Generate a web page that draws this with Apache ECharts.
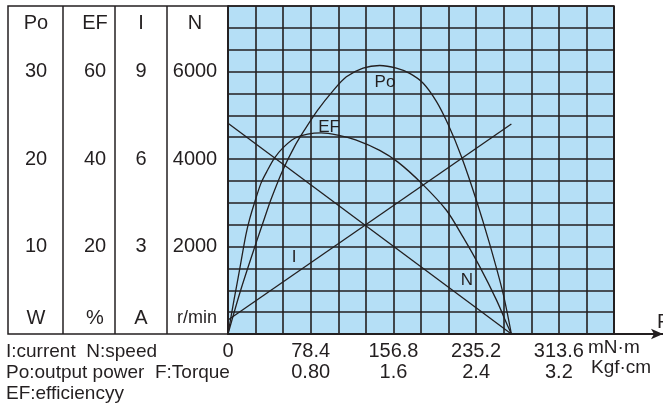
<!DOCTYPE html>
<html><head><meta charset="utf-8">
<script src="https://cdn.jsdelivr.net/npm/echarts@6/dist/echarts.min.js"></script>
<style>html,body{margin:0;padding:0;background:#fff;}#c{width:663px;height:408px;}</style>
</head><body><div id="c"></div>
<script>
// ---- data (torque in mN·m) ----
const efTorque = [0, 5.7, 10.4, 16.8, 20.3, 25.0, 31.3, 37.6, 44.0, 51.8, 62.9, 75.5, 88.2, 104, 121, 143.8, 161.1, 183.3, 207, 222.7, 238.6, 254.4, 265.4, 268.6];
const efValues = [0, 7.8, 13.9, 22.5, 26.1, 29.9, 34.5, 37.5, 40.2, 42.5, 44.7, 45.7, 46.0, 45.5, 44.4, 42.0, 39.3, 34.5, 28.3, 22.2, 15.4, 7.8, 1.7, 0];
const poTorque = [0, 12, 26.3, 34.5, 40.8, 51.8, 62.9, 72.4, 85.0, 99.5, 112.2, 128, 143.8, 159.6, 172.2, 184.8, 197.5, 208.5, 221.2, 235.4, 248, 260.7, 268.6];
const poValues = [0, 5.0, 10.3, 13.2, 15.4, 18.7, 21.4, 23.3, 25.6, 27.8, 29.4, 30.4, 30.7, 30.4, 29.8, 28.7, 26.6, 24.0, 20.3, 15.3, 10.3, 4.65, 0];
const iTorque = [0, 268.6];
const iValues = [0.48, 7.2];
const nTorque = [0, 268.6];
const nValues = [4820, 0];

// ---- tick labels ----
const xLabelsMNm = ['0', '78.4', '156.8', '235.2', '313.6'];
const xLabelsKgf = ['', '0.80', '1.6', '2.4', '3.2'];
const poTicks = ['10', '20', '30'];
const efTicks = ['20', '40', '60'];
const iTicks = ['3', '6', '9'];
const nTicks = ['2000', '4000', '6000'];
const tableHeads = ['Po', 'EF', 'I', 'N'];
const tableUnits = ['W', '%', 'A', 'r/min'];
const notes = ['I:current  N:speed', 'Po:output power  F:Torque', 'EF:efficiencyy'];
const curveNames = ['Po', 'EF', 'I', 'N'];
const torqueUnits = ['mN\u00b7m', 'Kgf\u00b7cm'];
const axisName = 'F';

// ---- layout / style ----
const INK = '#231f20';
const FONT = '"Liberation Sans", Arial, Helvetica, sans-serif';
const GL = 228, GT = 6, GW = 386, GH = 328;
const torqueStep = 78.4 / 3;
const torqueMax = torqueStep * 14;
const colCenters = [36, 95, 141, 195];

function pick(ticks) {
  return function (v) { const t = ticks.find(s => Math.abs(+s - v) < 1e-6); return t || ''; };
}
function xFmt(labels) {
  return function (v) { const k = Math.round(v / torqueStep); return k % 3 === 0 ? (labels[k / 3] || '') : ''; };
}
function yAxisFor(max, interval, ticks, col, split) {
  return {
    type: 'value', gridIndex: 0, position: 'left', min: 0, max: max, interval: interval,
    axisLine: { show: false }, axisTick: { show: false },
    axisLabel: { formatter: pick(ticks), align: 'center', margin: GL - colCenters[col], color: INK, fontSize: 20, fontFamily: FONT },
    splitLine: { show: split, lineStyle: { color: INK, width: 1.6 } }
  };
}
function pair(xs, ys) { return xs.map((x, i) => [x, ys[i]]); }

const chart = echarts.init(document.getElementById('c'), null, { renderer: 'canvas' });

const graphic = [];
graphic.push({ type: 'rect', shape: { x: 8, y: GT, width: GL - 8, height: GH }, style: { fill: 'none', stroke: INK, lineWidth: 1.5 }, z: 10 });
[63, 115, 167].forEach(x => graphic.push({ type: 'line', shape: { x1: x, y1: GT, x2: x, y2: GT + GH }, style: { stroke: INK, lineWidth: 1.5 }, z: 10 }));
tableHeads.forEach((t, i) => graphic.push({ type: 'text', x: colCenters[i], y: 23, style: { text: t, fill: INK, font: '20px ' + FONT, textAlign: 'center', textVerticalAlign: 'middle' }, z: 10 }));
tableUnits.forEach((t, i) => graphic.push({ type: 'text', x: colCenters[i] + (i === 3 ? 2 : 0), y: 318, style: { text: t, fill: INK, font: (i === 3 ? '18px ' : '20px ') + FONT, textAlign: 'center', textVerticalAlign: 'middle' }, z: 10 }));
notes.forEach((t, i) => graphic.push({ type: 'text', x: 6, y: 352 + i * 21, style: { text: t, fill: INK, font: '19px ' + FONT, textAlign: 'left', textVerticalAlign: 'middle' }, z: 10 }));
const curvePos = [[385, 82], [329, 127], [294, 257], [467, 280]];
curveNames.forEach((t, i) => graphic.push({ type: 'text', x: curvePos[i][0], y: curvePos[i][1], style: { text: t, fill: INK, font: '17px ' + FONT, textAlign: 'center', textVerticalAlign: 'middle' }, z: 10 }));
graphic.push({ type: 'text', x: 588, y: 348, style: { text: torqueUnits[0], fill: INK, font: '19px ' + FONT, textAlign: 'left', textVerticalAlign: 'middle' }, z: 10 });
graphic.push({ type: 'text', x: 591, y: 368, style: { text: torqueUnits[1], fill: INK, font: '19px ' + FONT, textAlign: 'left', textVerticalAlign: 'middle' }, z: 10 });
graphic.push({ type: 'text', x: 657, y: 322, style: { text: axisName, fill: INK, font: '20px ' + FONT, textAlign: 'left', textVerticalAlign: 'middle' }, z: 10 });

const lineStyle = { color: INK, width: 1.3 };
chart.setOption({
  animation: false,
  backgroundColor: '#ffffff',
  textStyle: { fontFamily: FONT },
  grid: [
    { left: GL, top: GT, width: GW, height: GH, show: true, backgroundColor: '#b5dff6', borderColor: INK, borderWidth: 1.6 },
    { left: GL, top: GT, width: 663 - GL, height: GH, show: false }
  ],
  xAxis: [
    { type: 'value', gridIndex: 0, min: 0, max: torqueMax, interval: torqueStep,
      axisLine: { show: false }, axisTick: { show: false },
      axisLabel: { formatter: xFmt(xLabelsMNm), margin: 7, color: INK, fontSize: 20, fontFamily: FONT, showMaxLabel: false },
      splitLine: { show: true, lineStyle: { color: INK, width: 1.6 } } },
    { type: 'value', gridIndex: 0, position: 'bottom', offset: 21, min: 0, max: torqueMax, interval: torqueStep,
      axisLine: { show: false }, axisTick: { show: false },
      axisLabel: { formatter: xFmt(xLabelsKgf), margin: 7, color: INK, fontSize: 20, fontFamily: FONT, showMaxLabel: false },
      splitLine: { show: false } },
    { type: 'value', gridIndex: 1, min: 0, max: 1,
      axisLine: { show: true, symbol: ['none', 'arrow'], symbolSize: [8, 12], lineStyle: { color: INK, width: 2 } },
      axisTick: { show: false }, axisLabel: { show: false }, splitLine: { show: false } }
  ],
  yAxis: [
    yAxisFor(37.5, 2.5, poTicks, 0, false),
    yAxisFor(75, 5, efTicks, 1, false),
    yAxisFor(11.25, 0.75, iTicks, 2, false),
    yAxisFor(7500, 500, nTicks, 3, true),
    { type: 'value', gridIndex: 1, show: false, min: 0, max: 1 }
  ],
  graphic: graphic,
  series: [
    { name: 'Po', type: 'line', xAxisIndex: 0, yAxisIndex: 0, data: pair(poTorque, poValues), smooth: 0.3, showSymbol: false, lineStyle: lineStyle, z: 5 },
    { name: 'EF', type: 'line', xAxisIndex: 0, yAxisIndex: 1, data: pair(efTorque, efValues), smooth: 0.3, showSymbol: false, lineStyle: lineStyle, z: 5 },
    { name: 'I', type: 'line', xAxisIndex: 0, yAxisIndex: 2, data: pair(iTorque, iValues), showSymbol: false, lineStyle: lineStyle, z: 5 },
    { name: 'N', type: 'line', xAxisIndex: 0, yAxisIndex: 3, data: pair(nTorque, nValues), showSymbol: false, lineStyle: lineStyle, z: 5 }
  ]
});
</script></body></html>
